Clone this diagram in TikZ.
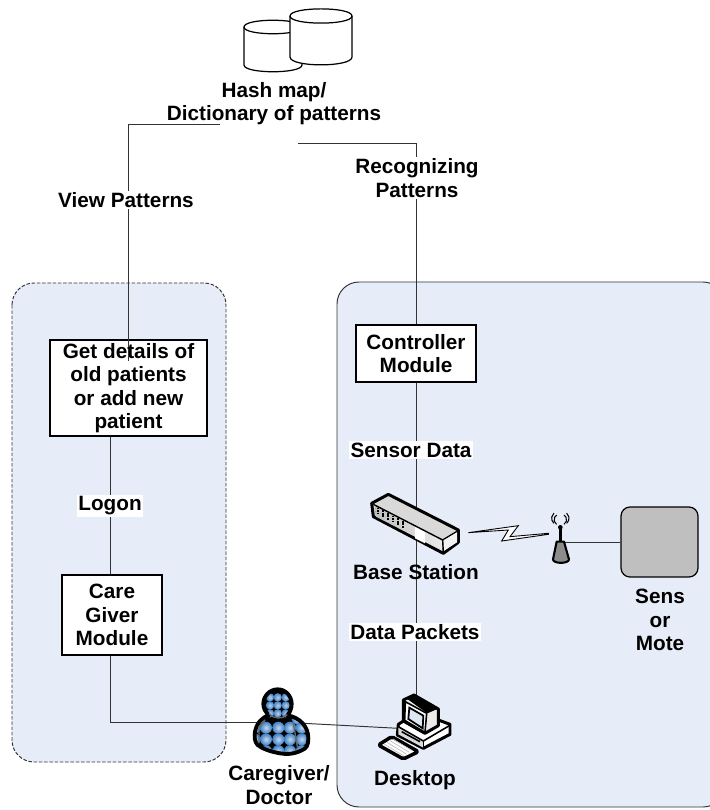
\documentclass[tikz,border=0pt]{standalone}
\usepackage{fontspec}
\setmainfont{Liberation Sans}
\usetikzlibrary{calc}
\tikzset{
	panel/.style={fill=panelblue, rounded corners=0.44cm},
	modbox/.style={draw=black, fill=white, line width=0.7pt, align=center, font=\labelfont},
	lbl/.style={align=center, font=\labelfont, inner sep=1pt},
	lblw/.style={lbl, fill=white},
	wire/.style={draw=black!80, line width=0.55pt},
	icon/.style={draw=black, line width=1.7pt, line join=round},
	zoomed/.style={x=0.00667cm, y=-0.00667cm},
}
\newcommand{\labelfont}{\fontsize{11.8}{13.3}\selectfont\bfseries}
\definecolor{panelblue}{HTML}{E7EDF8}
\definecolor{senseg}{HTML}{BFBFBF}
\definecolor{ballblue}{HTML}{3F80C4}
\definecolor{screenblue}{HTML}{DCE6F4}
\begin{document}
\begin{tikzpicture}[x=0.02cm, y=-0.02cm]
		%%%%% START %%%%%
		\useasboundingbox (0, 0) rectangle (709, 810);
		
		\draw[panel, draw=black!80, dash pattern=on 2pt off 1pt, line width=0.55pt] (12, 283) rectangle (226, 762);
		\draw[panel, draw=black!80, line width=0.55pt] (337, 282) rectangle (725, 807);
		
		%%%%% boxes and labels
		\node[modbox, minimum width=3.14cm, minimum height=1.92cm, inner sep=0pt] (details) at (128.5, 388) {};
		\node[modbox, minimum width=2cm, minimum height=1.6cm, inner sep=0pt] (caremod) at (112, 615) {Care\\Giver\\Module};
		\node[modbox, minimum width=2.4cm, minimum height=1.14cm, inner sep=0pt] (control) at (416, 353.5) {Controller\\Module};
		\node[draw=black, fill=senseg, line width=0.7pt, rounded corners=0.18cm, minimum width=1.54cm, minimum height=1.4cm] (sensor) at (659.5, 542) {};
		
		\coordinate (hashleft) at (220, 124);
		\coordinate (hashright) at (298, 143);
		\coordinate (detailsin) at (128, 361);
		\coordinate (careknee) at (110, 722);
		\node[minimum size=0.4cm, inner sep=0pt] (doctor) at (279, 722) {};
		\node[minimum size=0.4cm, inner sep=0pt] (desktop) at (430, 730) {};
		\node[minimum size=0.4cm, inner sep=0pt] (station) at (416, 525) {};
		\node[minimum size=0.2cm, inner sep=0pt] (antenna) at (560, 542) {};
		
		\draw[wire] (hashleft) -| (detailsin);
		\draw[wire] (hashright) -| (control.north);
		\draw[wire] (control.south) -- (station);
		\draw[wire] (station) -- (desktop.north -| station);
		\draw[wire] (careknee |- details.south) -- (careknee |- caremod.north);
		\draw[wire] (caremod.south -| careknee) -- (careknee) -- (doctor);
		\draw[wire] (doctor) -- (desktop);
		\draw[wire] (antenna) -- (sensor);
		
		\node[lbl, inner sep=0pt] (detailslabel) at (details) {Get details of\\old patients\\or add new\\patient};
		\node[lbl] (hashlabel) at (274, 103.5) {Hash map/\\Dictionary of patterns};
		\node[lblw] (viewlabel) at (126, 200) {View Patterns};
		\node[lblw] (recoglabel) at (417, 178) {Recognizing\\Patterns};
		\node[lblw] (logonlabel) at (110, 506) {Logon};
		\node[lblw] (sensorlabel) at (411, 450) {Sensor Data};
		\node[lbl] (stationlabel) at (416, 572) {Base Station};
		\node[lblw] (packetlabel) at (415, 632) {Data Packets};
		\node[lbl] (moteslabel) at (660, 620) {Sens\\or\\Mote};
		\node[lbl] (doctorlabel) at (279, 785) {Caregiver/\\Doctor};
		\node[lbl] (desktoplabel) at (415, 780) {Desktop};
		
		%%%%% hash map cylinders
		\draw[fill=white, line width=0.7pt] (244, 27) .. controls (244, 18) and (302, 18) .. (302, 27) -- (302, 65) .. controls (302, 74) and (244, 74) .. (244, 65) -- cycle;
		\draw[line width=0.7pt] (244, 27) .. controls (244, 36) and (302, 36) .. (302, 27);
		\draw[fill=white, line width=0.7pt] (290, 16) .. controls (290, 6.5) and (352, 6.5) .. (352, 16) -- (352, 57) .. controls (352, 67.5) and (290, 67.5) .. (290, 57) -- cycle;
		\draw[line width=0.7pt] (290, 16) .. controls (290, 25.5) and (352, 25.5) .. (352, 16);
		
		%%%%% base station
		\begin{scope}[shift={(365, 485)}, zoomed]
			\draw[icon, fill=black!15] (20, 55) -- (70, 28) -- (280, 135) -- (280, 172) -- (235, 205) -- (25, 95) -- cycle;
			\fill[left color=black!25, right color=black!8] (30, 62) -- (232, 165) -- (233, 198) -- (33, 95) -- cycle;
			\fill[white] (150, 125) -- (180, 140) -- (180, 175) -- (150, 160) -- cycle;
			\draw[line width=0.8pt] (25, 58) -- (233, 165) -- (278, 138);
			\fill[black!5] (236, 166) -- (276, 142) -- (276, 172) -- (236, 198) -- cycle;
			\draw[line width=0.8pt] (233, 165) -- (235, 203);
			\foreach \i in {0, 1, 2, 3, 4, 5}
				\draw[line width=1pt, dash pattern=on 1pt off 0.4pt] ({38+\i*15}, {68+\i*8}) -- ({38+\i*15}, {90+\i*8});
		\end{scope}
		
		%%%%% lightning and antenna
		\begin{scope}[shift={(340, 470)}, zoomed]
			\draw[fill=white, line width=0.5pt] (385, 188) -- (535, 167) -- (510, 200) -- (625, 190) -- (625, 193) -- (485, 213) -- (505, 180) -- cycle;
			\draw[line width=1.2pt, fill=black!45, line join=round] (650, 215) -- (672, 215) -- (687, 268) .. controls (687, 282) and (639, 282) .. (639, 268) -- cycle;
			\draw[line width=1.5pt] (661, 215) -- (661, 172);
			\fill (661, 172) circle (7);
			\draw[line width=0.6pt] (650, 163) arc (120:240:16);
			\draw[line width=0.6pt] (642, 160) arc (130:230:20);
			\draw[line width=0.6pt] (672, 163) arc (60:-60:16);
			\draw[line width=0.6pt] (680, 160) arc (50:-50:20);
		\end{scope}
		
		%%%%% caregiver
		\begin{scope}[shift={(245, 680)}, zoomed]
			\def\doctorshape{(98, 28) .. controls (122, 28) and (140, 48) .. (140, 72) .. controls (140, 85) and (135, 97) .. (127, 106) .. controls (165, 112) and (190, 140) .. (190, 175) .. controls (190, 195) and (185, 205) .. (172, 210) .. controls (150, 222) and (125, 224) .. (105, 220) .. controls (75, 215) and (50, 205) .. (38, 195) .. controls (28, 185) and (28, 170) .. (30, 155) .. controls (35, 130) and (50, 112) .. (72, 106) .. controls (62, 97) and (55, 85) .. (55, 72) .. controls (55, 48) and (74, 28) .. (98, 28) -- cycle}
			\begin{scope}
				\clip \doctorshape;
				\fill[black] (20, 20) rectangle (200, 230);
				\foreach \x in {75, 98, 122}
					\foreach \y in {52, 76, 100}
						\shade[inner color=ballblue!35, outer color=ballblue] (\x, \y) circle (12.5);
				\foreach \x in {28, 63, 100, 135, 170}
					\foreach \y in {143, 178, 213}
						\shade[inner color=ballblue!30, outer color=ballblue] (\x, \y) circle (18);
				\foreach \x in {45, 155}
					\shade[inner color=ballblue!35, outer color=ballblue] (\x, 118) circle (15);
			\end{scope}
			\draw[icon, line width=2.2pt] \doctorshape;
			\draw[line width=0.8pt, black!60] (72, 100) .. controls (85, 118) and (112, 118) .. (127, 104);
			\draw[line width=0.8pt, black!60] (60, 120) -- (42, 140) -- (42, 190);
			\draw[line width=0.8pt, black!60] (145, 130) -- (158, 205);
		\end{scope}
		
		%%%%% desktop
		\begin{scope}[shift={(370, 685)}, zoomed]
			\draw[icon, fill=white] (85, 118) -- (105, 105) -- (205, 105) -- (240, 118) -- (240, 148) -- (160, 190) -- (82, 150) -- cycle;
			\fill[black!15] (85, 125) -- (160, 168) -- (160, 188) -- (85, 148) -- cycle;
			\draw[line width=0.9pt] (85, 125) -- (160, 168) -- (238, 122);
			\draw[line width=0.9pt] (160, 168) -- (160, 190);
			\draw[line width=0.9pt] (95, 140) -- (150, 170);
			\draw[icon, fill=black!8] (100, 45) -- (132, 30) -- (205, 72) -- (205, 122) -- (165, 145) -- (100, 108) -- cycle;
			\fill[black] (112, 42) -- (132, 33) -- (202, 72) -- (172, 85) -- cycle;
			\draw[line width=0.9pt, fill=white] (106, 50) -- (170, 85) -- (165, 142) -- (104, 106) -- cycle;
			\draw[line width=1pt, fill=screenblue] (118, 68) -- (160, 92) -- (158, 130) -- (115, 102) -- cycle;
			\draw[icon, fill=white, line width=2pt, rounded corners=1pt] (25, 180) -- (65, 155) -- (145, 200) -- (100, 222) -- cycle;
			\foreach \i in {0, 1, 2, 3}
				\draw[black!25, line width=0.4pt] ({42+\i*9}, {177-\i*5}) -- ({100+\i*9}, {212-\i*5});
		\end{scope}
		
		%%%%% END %%%%%
	\end{tikzpicture}
\end{document}
